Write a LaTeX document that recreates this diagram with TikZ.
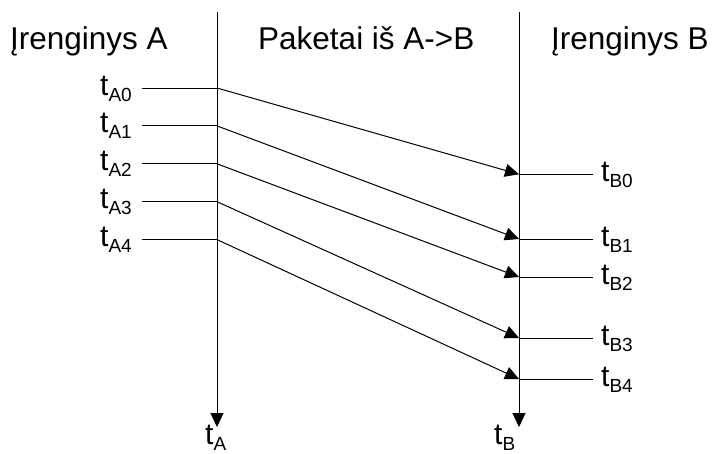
\documentclass[tikz,border=0pt]{standalone}
\usepackage{fontspec}
\setmainfont{Liberation Sans}
\usetikzlibrary{arrows.meta}
\newcommand{\tlab}[1]{t{\fontsize{19}{19}\selectfont\raisebox{-6pt}{#1}}}
\begin{document}
\begin{tikzpicture}[x=1pt,y=-1pt,
  lbl/.style={inner sep=0pt, font=\fontsize{30}{30}\selectfont, anchor=base west},
  hdr/.style={inner sep=0pt, font=\fontsize{31.5}{31.5}\selectfont, anchor=base west},
  ln/.style={line width=1pt},
  arr/.style={line width=1pt, -{Triangle[length=14pt,width=13pt]}}]
\useasboundingbox (0,0) rectangle (713,453);
% headers
\node[hdr] (hA) at (10,49) {Įrenginys A};
\node[hdr] (hP) at (258,49) {Paketai iš A->B};
\node[hdr] (hB) at (551,49) {Įrenginys B};
% time axes
\coordinate (Atop) at (217,12);
\coordinate (Abot) at (217,427);
\coordinate (Btop) at (519,12);
\coordinate (Bbot) at (519,427);
\draw[arr] (Atop) -- (Abot);
\draw[arr] (Btop) -- (Bbot);
\node[lbl] (tA) at (205,444) {\tlab{A}};
\node[lbl] (tB) at (494,444) {\tlab{B}};
% packets
\foreach \i/\ya/\yb in {0/88/174.3, 1/125.9/239, 2/163.8/277, 3/201.7/338, 4/239.6/379} {
  \coordinate (a\i) at (217,\ya);
  \coordinate (aL\i) at (142,\ya);
  \coordinate (b\i) at (519,\yb);
  \coordinate (bR\i) at (593,\yb);
  \node[lbl] (tA\i) at (100,\ya+7) {\tlab{A\i}};
  \node[lbl] (tB\i) at (601,\yb+7) {\tlab{B\i}};
  \draw[ln] (aL\i) -- (a\i);
  \draw[arr] (a\i) -- (b\i);
  \draw[ln] (b\i) -- (bR\i);
}
\end{tikzpicture}
\end{document}
